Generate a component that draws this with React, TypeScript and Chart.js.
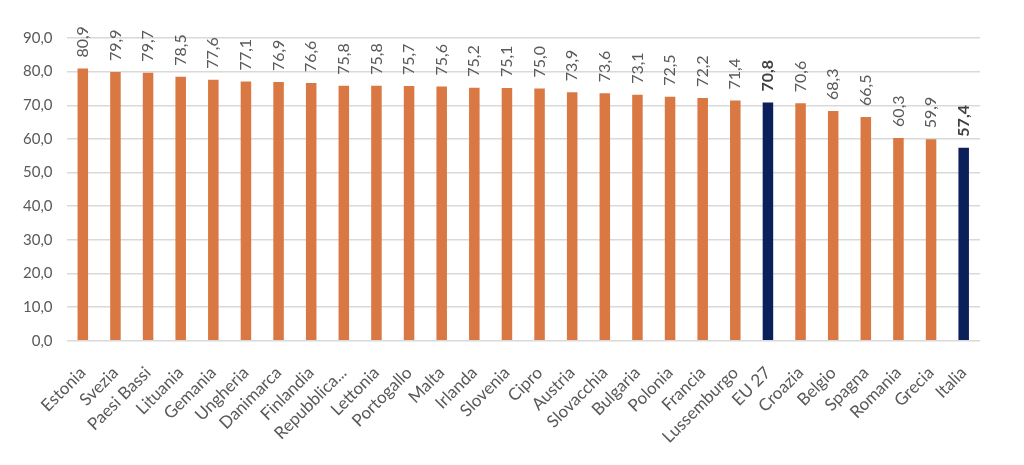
import React, { useEffect, useRef } from 'react';
import { Chart, registerables, Plugin } from 'chart.js';

Chart.register(...registerables);

// Categories, in the order shown
const countries = [
  'Estonia', 'Svezia', 'Paesi Bassi', 'Lituania', 'Gemania', 'Ungheria', 'Danimarca',
  'Finlandia', 'Repubblica...', 'Lettonia', 'Portogallo', 'Malta', 'Irlanda', 'Slovenia',
  'Cipro', 'Austria', 'Slovacchia', 'Bulgaria', 'Polonia', 'Francia', 'Lussemburgo',
  'EU 27', 'Croazia', 'Belgio', 'Spagna', 'Romania', 'Grecia', 'Italia',
];

const values = [
  80.9, 79.9, 79.7, 78.5, 77.6, 77.1, 76.9,
  76.6, 75.8, 75.8, 75.7, 75.6, 75.2, 75.1,
  75.0, 73.9, 73.6, 73.1, 72.5, 72.2, 71.4,
  70.8, 70.6, 68.3, 66.5, 60.3, 59.9, 57.4,
];

const highlighted = ['EU 27', 'Italia'];

const yMin = 0;
const yMax = 90;
const yStep = 10;

const ORANGE = '#D97843';
const NAVY = '#0B1F5B';
const TEXT = '#595959';
const GRID = '#D9D9D9';
const FONT = 'Lato, "Open Sans", sans-serif';

const fmt = (v: number) => v.toFixed(1).replace('.', ',');

// draws the rotated value labels above each bar
const valueLabels: Plugin<'bar'> = {
  id: 'valueLabels',
  afterDatasetsDraw(chart) {
    const ctx = chart.ctx;
    const meta = chart.getDatasetMeta(0);
    meta.data.forEach((bar, i) => {
      const bold = highlighted.includes(countries[i]);
      ctx.save();
      ctx.translate(bar.x, bar.y - 11);
      ctx.rotate(-Math.PI / 2);
      ctx.font = `${bold ? 'bold ' : ''}16px ${FONT}`;
      ctx.fillStyle = bold ? '#404040' : TEXT;
      ctx.textAlign = 'left';
      ctx.textBaseline = 'middle';
      ctx.fillText(fmt(values[i]), 0, 0);
      ctx.restore();
    });
  },
};

const App: React.FC = () => {
  const canvasRef = useRef<HTMLCanvasElement | null>(null);

  useEffect(() => {
    document.body.style.margin = '0';
    if (!canvasRef.current) return;

    const chart = new Chart(canvasRef.current, {
      type: 'bar',
      data: {
        labels: countries,
        datasets: [
          {
            data: values,
            backgroundColor: countries.map(c => (highlighted.includes(c) ? NAVY : ORANGE)),
            barPercentage: 0.62,
            categoryPercentage: 0.52,
          },
        ],
      },
      options: {
        responsive: false,
        animation: false,
        layout: { padding: { left: 9, right: 44, top: 38, bottom: 4 } },
        plugins: {
          legend: { display: false },
          tooltip: { enabled: false },
        },
        scales: {
          x: {
            grid: { display: false },
            border: { display: false },
            ticks: {
              autoSkip: false,
              maxRotation: 45,
              minRotation: 45,
              padding: 14,
              color: TEXT,
              font: { family: FONT, size: 17 },
            },
          },
          y: {
            min: yMin,
            max: yMax,
            ticks: {
              stepSize: yStep,
              padding: 14,
              color: TEXT,
              font: { family: FONT, size: 15 },
              callback: v => fmt(Number(v)),
            },
            grid: { color: GRID, lineWidth: 1.5, drawTicks: false },
            border: { display: false },
          },
        },
      },
      plugins: [valueLabels],
    });

    return () => chart.destroy();
  }, []);

  return (
    <div style={{ width: 1024, height: 465, background: '#fff' }}>
      <canvas ref={canvasRef} width={1024} height={465} />
    </div>
  );
};

export default App;
